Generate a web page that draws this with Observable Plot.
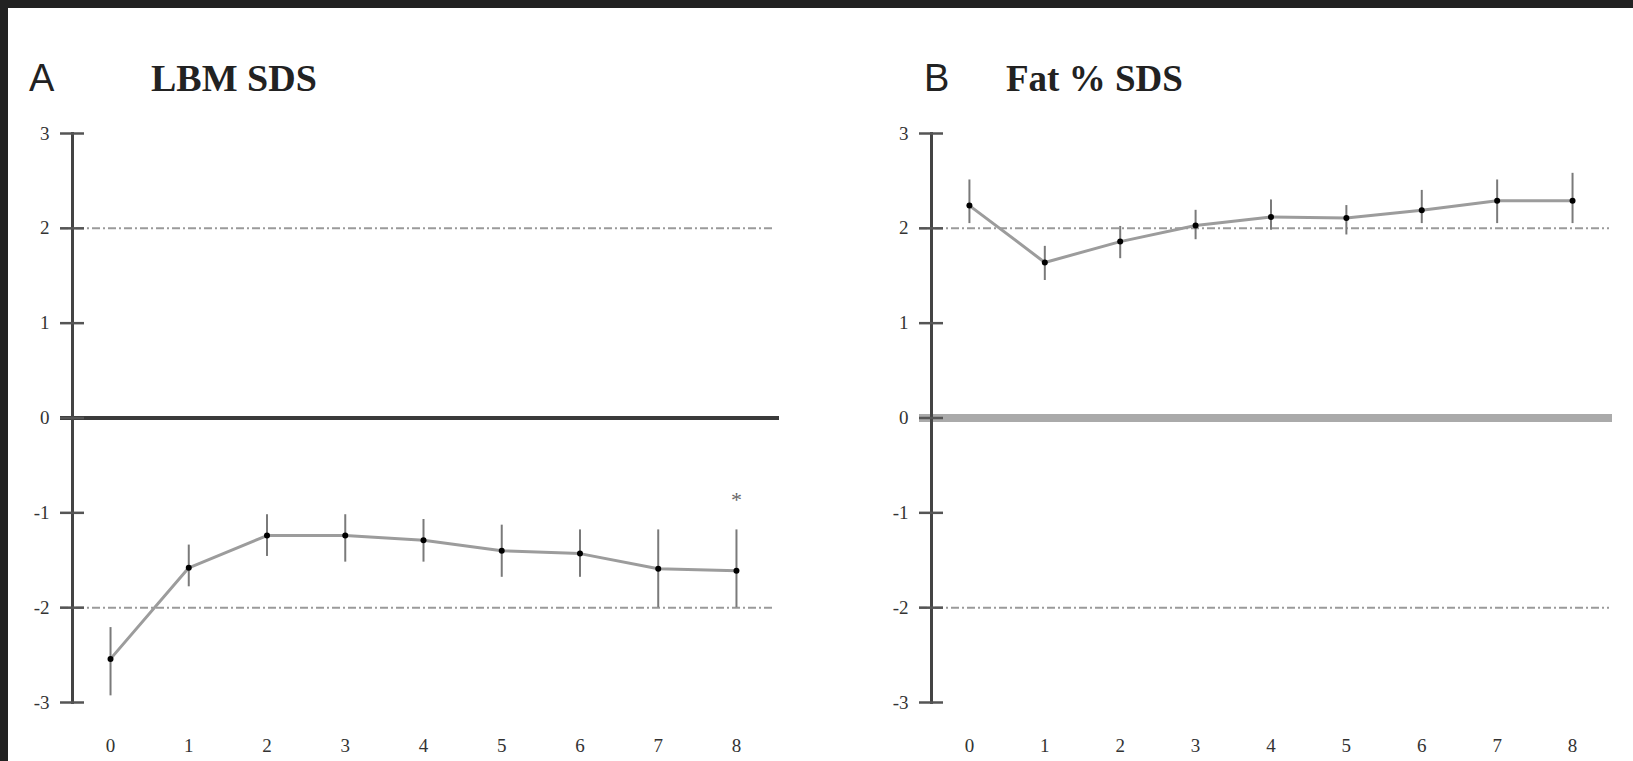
<!DOCTYPE html>
<html>
<head>
<meta charset="utf-8">
<script src="https://cdn.jsdelivr.net/npm/d3@7"></script>
<script src="https://cdn.jsdelivr.net/npm/@observablehq/plot@0.6"></script>
<style>
  html, body { margin: 0; padding: 0; }
  body { width: 1633px; height: 761px; background: #222; position: relative; overflow: hidden; }
  #sheet { position: absolute; left: 8px; top: 8px; right: 0; bottom: 0; background: #fff; }
  .panel { position: absolute; top: 0; }
  .letter { position: absolute; font-family: "Liberation Sans", Arial, sans-serif; font-size: 38px; line-height: 1; color: #222; }
  .title { position: absolute; font-family: "Liberation Serif", "Times New Roman", serif; font-weight: bold; font-size: 38px; line-height: 1; color: #222; }
</style>
</head>
<body>
<div id="sheet"></div>
<div id="panelA" class="panel" style="left:0px"></div>
<div id="panelB" class="panel" style="left:815px"></div>
<div class="letter" style="left:29px; top:59px">A</div>
<div class="title" style="left:151px; top:59px">LBM SDS</div>
<div class="letter" style="left:924px; top:59px">B</div>
<div class="title" style="left:1006px; top:60px; font-size:37px">Fat % SDS</div>
<script>
// Years (x categories)
const years = [0, 1, 2, 3, 4, 5, 6, 7, 8];
// Panel A: LBM SDS mean and error-bar ends
const lbmMean = [-2.54, -1.58, -1.24, -1.24, -1.29, -1.40, -1.43, -1.59, -1.61];
const lbmLow  = [-2.93, -1.78, -1.46, -1.52, -1.52, -1.68, -1.68, -2.00, -2.00];
const lbmHigh = [-2.21, -1.34, -1.02, -1.02, -1.07, -1.13, -1.18, -1.18, -1.18];
// Panel B: Fat % SDS mean and error-bar ends
const fatMean = [2.24, 1.64, 1.86, 2.03, 2.12, 2.11, 2.19, 2.29, 2.29];
const fatLow  = [2.05, 1.45, 1.68, 1.88, 1.98, 1.93, 2.05, 2.05, 2.05];
const fatHigh = [2.51, 1.81, 2.02, 2.19, 2.30, 2.24, 2.40, 2.51, 2.58];
// Axis ticks and reference lines
const yTicks = [-3, -2, -1, 0, 1, 2, 3];
const refLines = [-2, 2];
const zeroLine = [0];
// Significance marker (panel A)
const starMarks = [{x: 8, y: -0.80, t: "*"}];

function panel({mean, low, high, xDomain, width, marginLeft, marginRight, zeroStroke, zeroWidth, dashInsetRight, stars}) {
  const data = years.map((x, i) => ({x, m: mean[i], lo: low[i], hi: high[i]}));
  const marks = [
    Plot.ruleY(refLines, {stroke: "#9a9a9a", strokeWidth: 2, strokeDasharray: "8,3,2,3", insetLeft: -12, insetRight: dashInsetRight}),
    Plot.ruleY(zeroLine, {stroke: zeroStroke, strokeWidth: zeroWidth, insetLeft: -12}),
    Plot.frame({anchor: "left", stroke: "#444", strokeWidth: 3}),
    Plot.axisY(yTicks, {tickSize: 24, dx: 12, tickPadding: 11, stroke: "#555", strokeWidth: 2.5, color: "#333", fontSize: 19, tickFormat: d => String(d), label: null}),
    Plot.axisX(years, {tickSize: 0, tickPadding: 36, color: "#333", fontSize: 19, tickFormat: d => String(d), label: null}),
    Plot.ruleX(data, {x: "x", y1: "lo", y2: "hi", stroke: "#7a7a7a", strokeWidth: 2}),
    Plot.line(data, {x: "x", y: "m", stroke: "#9c9c9c", strokeWidth: 3}),
    Plot.dot(data, {x: "x", y: "m", r: 3, fill: "#000", stroke: null})
  ];
  if (stars) marks.push(Plot.text(stars, {x: "x", y: "y", text: "t", fontSize: 22, fill: "#666", dy: 6}));
  return Plot.plot({
    width, height: 761,
    marginTop: 133, marginBottom: 59, marginLeft, marginRight,
    style: {background: "transparent", fontFamily: "'Liberation Serif', 'Times New Roman', serif", fontSize: "19px", color: "#333", overflow: "visible"},
    x: {type: "linear", domain: xDomain},
    y: {type: "linear", domain: [-3, 3]},
    marks
  });
}

document.getElementById("panelA").appendChild(panel({
  mean: lbmMean, low: lbmLow, high: lbmHigh,
  xDomain: [-0.486, 8.55], width: 815, marginLeft: 72, marginRight: 36,
  zeroStroke: "#3a3a3a", zeroWidth: 4, dashInsetRight: 7, stars: starMarks
}));
document.getElementById("panelB").appendChild(panel({
  mean: fatMean, low: fatLow, high: fatHigh,
  xDomain: [-0.503, 8.53], width: 818, marginLeft: 116, marginRight: 21,
  zeroStroke: "#aaaaaa", zeroWidth: 8, dashInsetRight: 3, stars: null
}));
</script>
</body>
</html>
